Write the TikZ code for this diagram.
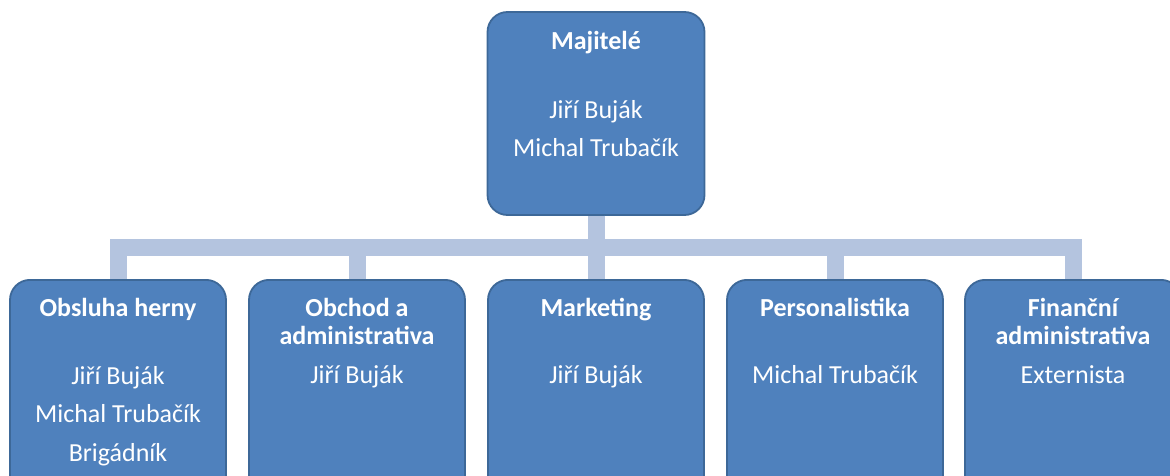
\documentclass[tikz,border=0pt]{standalone}
\usepackage{fontspec}
\setmainfont{Carlito}
\usetikzlibrary{positioning}

\definecolor{boxfill}{RGB}{79,129,189}
\definecolor{boxline}{RGB}{61,104,152}
\definecolor{connline}{RGB}{180,196,223}

\tikzset{
	boss/.style={draw=boxline,fill=boxfill,line width=1.8pt,rounded corners=20pt,minimum width=217pt,minimum height=203pt,inner sep=0pt},
	unit/.style={boss,minimum width=216pt,minimum height=240pt,anchor=north},
	head/.style={text=white,font=\bfseries\fontsize{26}{28}\selectfont,align=center,inner sep=0pt,
		execute at begin node=\strut,execute at end node=\strut},
	names/.style={text=white,font=\fontsize{26}{38.5}\selectfont,align=center,inner sep=0pt,
		execute at begin node=\strut,execute at end node=\strut},
	conn/.style={draw=connline,line width=17pt}
}

\begin{document}
\begin{tikzpicture}[x=1pt,y=-1pt]
	\useasboundingbox (0,0) rectangle (1170,476);
	\clip (0,0) rectangle (1170,476);

	\node[boss] (own) at (596,113.5) {};
	\node[head] (ownT) at (own.north |- 0,44) {Majitelé};
	\node[names] (ownB) at (own.north |- 0,134) {Jiří Buják\\Michal Trubačík};

	\coordinate (bus) at (0,247);

	\foreach \n/\x/\hd/\hy/\bd/\by in {
		obs/118/{Obsluha herny}/311/{Jiří Buják\\Michal Trubačík\\Brigádník}/419.5,
		obch/357/{Obchod a\\administrativa}/325.5/{Jiří Buják}/376,
		mkt/596/{Marketing}/311/{Jiří Buják}/376,
		pers/835/{Personalistika}/311/{Michal Trubačík}/376,
		fin/1073/{Finanční\\administrativa}/325.5/{Externista}/376}{
		\node[unit] (\n) at (\x,279) {};
		\node[head] (\n T) at (\x,\hy) {\hd};
		\node[names] (\n B) at (\x,\by) {\bd};
		\draw[conn] (own.south) -- (own.south |- bus) -| (\n.north);
	}
\end{tikzpicture}
\end{document}
